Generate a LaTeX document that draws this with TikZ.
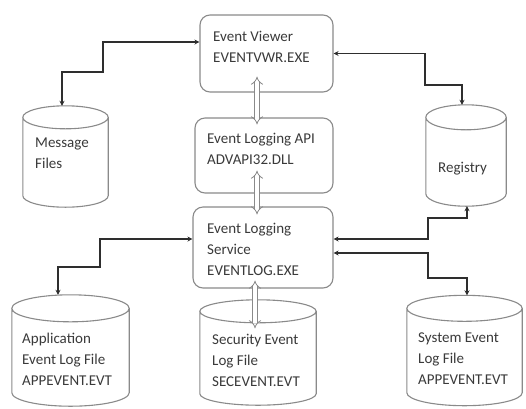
\documentclass[tikz,border=0pt]{standalone}
\usepackage{fontspec}
\setmainfont{Carlito}
\usetikzlibrary{arrows.meta,calc}
\definecolor{txtc}{HTML}{3A3A3A}
\definecolor{boxc}{HTML}{8A8A8A}
\definecolor{linec}{HTML}{2E2E2E}
\tikzset{
  box/.style={draw=boxc, line width=1.1pt, rounded corners=10pt, fill=white},
  cylbody/.style={inner sep=0, draw=none},
  cylline/.style={draw=boxc, line width=1.1pt, fill=white},
  txt/.style={text=txtc, font=\fontsize{15}{21}\selectfont, align=left, inner sep=0},
  conn/.style={draw=linec, line width=1.3pt, {Stealth[length=5pt,width=5pt]}-{Stealth[length=5pt,width=5pt]}},
  hollow/.style={draw=boxc, line width=0.8pt, double=white, double distance=3.5pt, {Implies[]}-{Implies[]}}
}
% #1 node name, #2 vertical radius of the end ellipses (pt)
\newcommand\drawcyl[2]{%
  \draw[cylline] let \p1=($(#1.north east)-(#1.north west)$), \n1={0.5*\x1} in
    (#1.north west) -- (#1.south west)
    arc[start angle=180, end angle=360, x radius=\n1, y radius=#2pt]
    -- (#1.north east)
    arc[start angle=0, end angle=360, x radius=\n1, y radius=#2pt];
}
\begin{document}
\begin{tikzpicture}[x=1pt,y=-1pt]
\useasboundingbox (0,0) rectangle (526,408);
% boxes
\node[box, minimum width=133pt, minimum height=77pt] (ev) at (266.5,53.5) {};
\node[box, minimum width=138pt, minimum height=75pt] (api) at (264,155.5) {};
\node[box, minimum width=140pt, minimum height=81pt] (svc) at (263,247.5) {};
% cylinders (node spans between the centres of the end ellipses)
\node[cylbody, minimum width=85pt, minimum height=78pt] (msg) at (65.5,156.5) {};
\node[cylbody, minimum width=80pt, minimum height=76pt] (reg) at (466,155.5) {};
\node[cylbody, minimum width=117pt, minimum height=84pt] (app) at (70.5,350.5) {};
\node[cylbody, minimum width=116pt, minimum height=82pt] (sec) at (258,352.5) {};
\node[cylbody, minimum width=115pt, minimum height=84pt] (sys) at (464.5,350.5) {};
\drawcyl{msg}{11.5}
\drawcyl{reg}{12.5}
\drawcyl{app}{13.5}
\drawcyl{sec}{11.5}
\drawcyl{sys}{13}
% texts
\node[txt, anchor=north west] (tev) at (213,31) {Event Viewer\\EVENTVWR.EXE};
\node[txt, anchor=north west] (tapi) at (207,133) {Event Logging API\\ADVAPI32.DLL};
\node[txt, anchor=north west] (tsvc) at (207,223) {Event Logging\\Service\\EVENTLOG.EXE};
\node[txt, anchor=north west] (tmsg) at (35,138) {Message\\Files};
\node[txt, anchor=north west] (treg) at (438,162) {Registry};
\node[txt, anchor=north west] (tapp) at (22,333) {Application\\Event Log File\\APPEVENT.EVT};
\node[txt, anchor=north west] (tsec) at (212,334) {Security Event\\Log File\\SECEVENT.EVT};
\node[txt, anchor=north west] (tsys) at (418,333) {System Event\\Log File\\APPEVENT.EVT};
% connectors
\draw[conn] ([yshift=11.5pt]ev.west) -| (103,72) -| ([yshift=11.5pt]msg.north -| 62,0);
\draw[conn] (ev.east) -| (425,85) -| ([yshift=12.5pt]reg.north -| 462,0);
\draw[conn] ([yshift=8.5pt]svc.west) -| (100,267) -| ([yshift=13.5pt]app.north -| 58,0);
\draw[conn] ([yshift=8.5pt]svc.east) -| (428,218) -| ([yshift=-12.5pt]reg.south -| 467,0);
\draw[conn] ([yshift=-5.5pt]svc.east) -| (428,278) -| ([yshift=13pt]sys.north -| 467,0);
% hollow double arrows
\draw[hollow] ([yshift=16pt]ev.south -| 257,0) -- ([yshift=-7pt]api.north -| 257,0);
\draw[hollow] ([yshift=23pt]api.south -| 257,0) -- ([yshift=-8pt]svc.north -| 257,0);
\draw[hollow] ([yshift=8pt]svc.south -| 255,0) -- ([yshift=-17pt]sec.north -| 255,0);
\end{tikzpicture}
\end{document}
